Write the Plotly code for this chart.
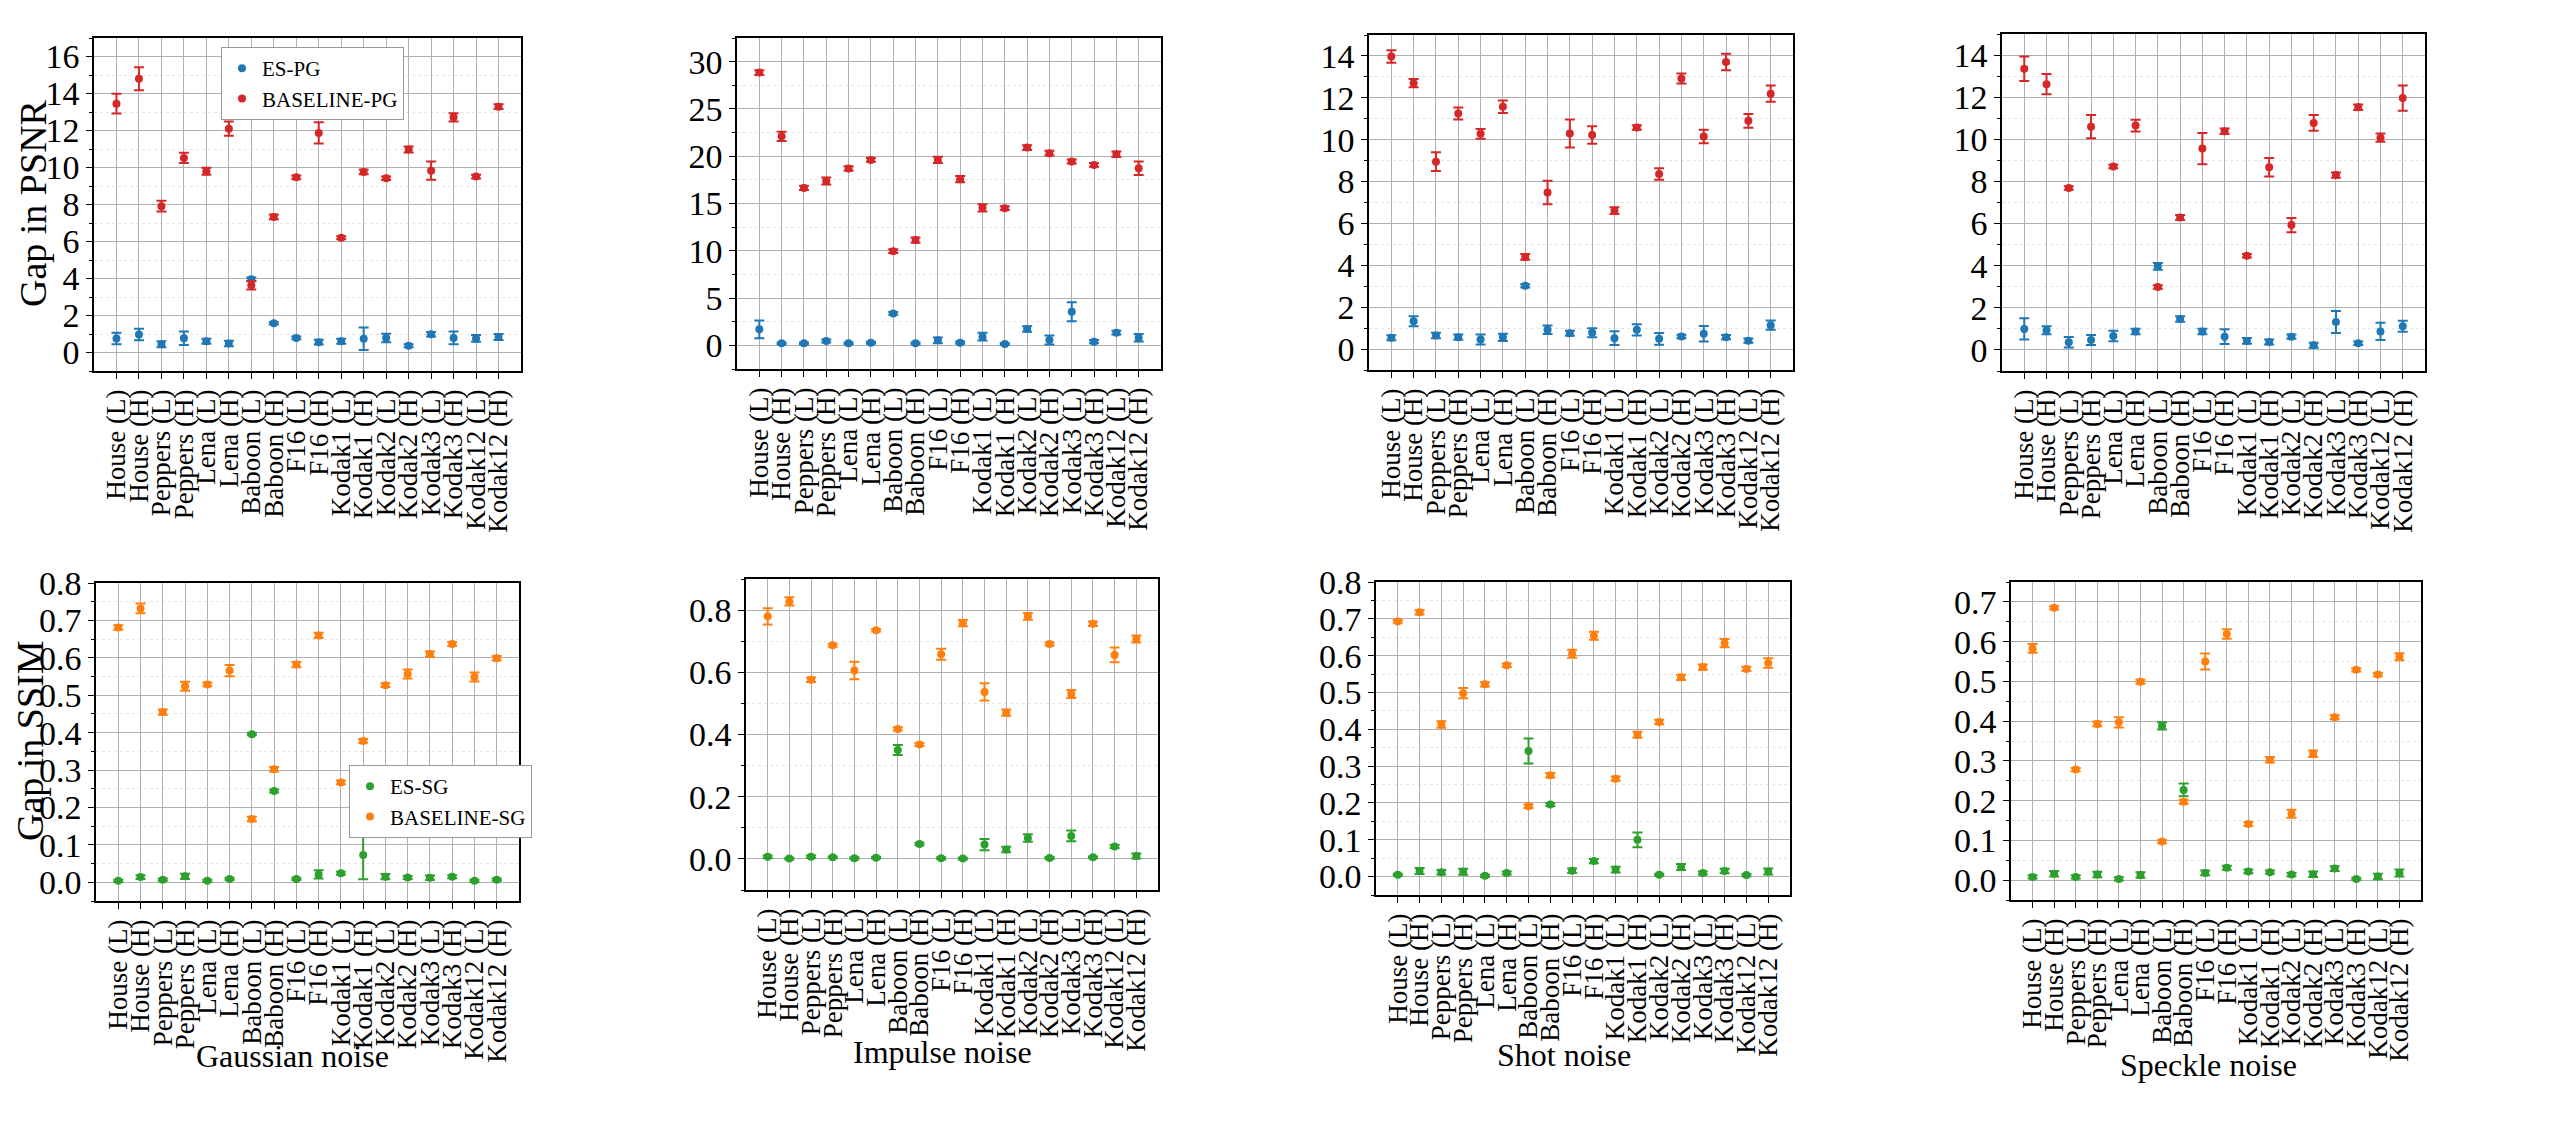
import plotly.graph_objects as go

categories = ["House (L)", "House (H)", "Peppers (L)", "Peppers (H)", "Lena (L)", "Lena (H)",
              "Baboon (L)", "Baboon (H)", "F16 (L)", "F16 (H)", "Kodak1 (L)", "Kodak1 (H)",
              "Kodak2 (L)", "Kodak2 (H)", "Kodak3 (L)", "Kodak3 (H)", "Kodak12 (L)", "Kodak12 (H)"]

# Gap in PSNR
gauss_psnr_es = [0.76, 0.97, 0.45, 0.77, 0.61, 0.49, 3.96, 1.58, 0.79, 0.56, 0.61, 0.74, 0.79, 0.36, 0.99, 0.79, 0.76, 0.84]
gauss_psnr_es_err = [0.31, 0.31, 0.16, 0.36, 0.14, 0.15, 0.1, 0.06, 0.08, 0.13, 0.14, 0.61, 0.23, 0.08, 0.12, 0.35, 0.18, 0.16]
gauss_psnr_base = [13.45, 14.8, 7.91, 10.52, 9.8, 12.1, 3.63, 7.33, 9.47, 11.87, 6.2, 9.76, 9.42, 10.97, 9.83, 12.71, 9.51, 13.29]
gauss_psnr_base_err = [0.53, 0.62, 0.29, 0.28, 0.19, 0.38, 0.22, 0.13, 0.1, 0.57, 0.08, 0.13, 0.1, 0.16, 0.49, 0.22, 0.1, 0.13]

impulse_psnr_es = [1.69, 0.21, 0.21, 0.46, 0.21, 0.28, 3.38, 0.21, 0.53, 0.28, 0.92, 0.14, 1.73, 0.56, 3.56, 0.39, 1.34, 0.81]
impulse_psnr_es_err = [0.95, 0.1, 0.1, 0.15, 0.1, 0.1, 0.15, 0.1, 0.3, 0.12, 0.4, 0.1, 0.28, 0.48, 1.0, 0.18, 0.2, 0.4]
impulse_psnr_base = [28.84, 22.11, 16.65, 17.39, 18.7, 19.61, 9.96, 11.13, 19.61, 17.57, 14.54, 14.5, 20.92, 20.32, 19.44, 19.08, 20.21, 18.73]
impulse_psnr_base_err = [0.25, 0.49, 0.23, 0.37, 0.25, 0.2, 0.2, 0.28, 0.33, 0.33, 0.39, 0.2, 0.25, 0.25, 0.2, 0.2, 0.3, 0.72]

shot_psnr_es = [0.54, 1.33, 0.65, 0.57, 0.46, 0.56, 3.02, 0.92, 0.76, 0.78, 0.52, 0.92, 0.49, 0.6, 0.73, 0.57, 0.4, 1.14]
shot_psnr_es_err = [0.12, 0.24, 0.13, 0.12, 0.24, 0.17, 0.08, 0.2, 0.12, 0.21, 0.33, 0.27, 0.28, 0.08, 0.37, 0.1, 0.1, 0.22]
shot_psnr_base = [13.97, 12.7, 8.95, 11.25, 10.28, 11.57, 4.4, 7.48, 10.3, 10.22, 6.61, 10.58, 8.36, 12.92, 10.15, 13.71, 10.9, 12.2]
shot_psnr_base_err = [0.3, 0.2, 0.45, 0.29, 0.23, 0.3, 0.14, 0.56, 0.67, 0.42, 0.16, 0.11, 0.27, 0.24, 0.32, 0.39, 0.33, 0.39]

speckle_psnr_es = [1.0, 0.93, 0.36, 0.47, 0.66, 0.88, 3.97, 1.47, 0.88, 0.63, 0.43, 0.38, 0.63, 0.22, 1.33, 0.32, 0.88, 1.12]
speckle_psnr_es_err = [0.5, 0.19, 0.25, 0.24, 0.25, 0.13, 0.16, 0.13, 0.13, 0.35, 0.14, 0.12, 0.1, 0.12, 0.52, 0.08, 0.41, 0.26]
speckle_psnr_base = [13.35, 12.62, 7.69, 10.6, 8.71, 10.65, 2.99, 6.29, 9.56, 10.38, 4.47, 8.67, 5.93, 10.78, 8.3, 11.52, 10.08, 11.96]
speckle_psnr_base_err = [0.58, 0.48, 0.08, 0.55, 0.08, 0.28, 0.08, 0.12, 0.74, 0.13, 0.08, 0.44, 0.34, 0.37, 0.12, 0.13, 0.2, 0.6]

# Gap in SSIM
gauss_ssim_es = [0.004, 0.014, 0.007, 0.016, 0.004, 0.009, 0.396, 0.244, 0.009, 0.021, 0.024, 0.073, 0.015, 0.013, 0.012, 0.015, 0.004, 0.007]
gauss_ssim_es_err = [0.003, 0.005, 0.003, 0.007, 0.003, 0.003, 0.003, 0.004, 0.003, 0.011, 0.004, 0.065, 0.007, 0.004, 0.006, 0.004, 0.003, 0.003]
gauss_ssim_base = [0.681, 0.732, 0.455, 0.524, 0.529, 0.566, 0.169, 0.302, 0.582, 0.66, 0.267, 0.378, 0.527, 0.557, 0.61, 0.637, 0.549, 0.599]
gauss_ssim_base_err = [0.006, 0.013, 0.007, 0.012, 0.005, 0.015, 0.006, 0.006, 0.007, 0.007, 0.005, 0.005, 0.005, 0.012, 0.007, 0.005, 0.012, 0.006]

impulse_ssim_es = [0.007, 0.001, 0.007, 0.005, 0.002, 0.004, 0.35, 0.048, 0.002, 0.001, 0.046, 0.03, 0.067, 0.003, 0.074, 0.005, 0.04, 0.009]
impulse_ssim_es_err = [0.004, 0.003, 0.004, 0.003, 0.003, 0.003, 0.016, 0.004, 0.003, 0.003, 0.018, 0.009, 0.012, 0.003, 0.017, 0.003, 0.005, 0.008]
impulse_ssim_base = [0.78, 0.828, 0.576, 0.687, 0.606, 0.735, 0.418, 0.368, 0.658, 0.758, 0.537, 0.47, 0.78, 0.691, 0.53, 0.756, 0.656, 0.707]
impulse_ssim_base_err = [0.026, 0.013, 0.007, 0.005, 0.028, 0.004, 0.005, 0.005, 0.018, 0.01, 0.028, 0.01, 0.011, 0.005, 0.013, 0.007, 0.024, 0.011]

shot_ssim_es = [0.005, 0.015, 0.012, 0.013, 0.002, 0.01, 0.341, 0.196, 0.016, 0.042, 0.019, 0.1, 0.005, 0.026, 0.01, 0.015, 0.004, 0.014]
shot_ssim_es_err = [0.003, 0.008, 0.006, 0.008, 0.003, 0.004, 0.034, 0.004, 0.006, 0.006, 0.008, 0.02, 0.003, 0.008, 0.004, 0.006, 0.003, 0.008]
shot_ssim_base = [0.693, 0.718, 0.413, 0.498, 0.522, 0.574, 0.191, 0.275, 0.605, 0.654, 0.266, 0.385, 0.42, 0.541, 0.569, 0.634, 0.564, 0.58]
shot_ssim_base_err = [0.004, 0.006, 0.009, 0.014, 0.006, 0.005, 0.005, 0.006, 0.011, 0.011, 0.006, 0.008, 0.006, 0.007, 0.007, 0.011, 0.006, 0.013]

speckle_ssim_es = [0.008, 0.016, 0.008, 0.014, 0.003, 0.013, 0.388, 0.227, 0.018, 0.031, 0.022, 0.02, 0.014, 0.015, 0.029, 0.003, 0.009, 0.018]
speckle_ssim_es_err = [0.004, 0.007, 0.004, 0.007, 0.004, 0.007, 0.009, 0.016, 0.006, 0.005, 0.005, 0.004, 0.004, 0.007, 0.006, 0.003, 0.007, 0.009]
speckle_ssim_base = [0.583, 0.685, 0.278, 0.393, 0.397, 0.499, 0.097, 0.197, 0.55, 0.619, 0.141, 0.303, 0.167, 0.318, 0.41, 0.529, 0.517, 0.562]
speckle_ssim_base_err = [0.011, 0.004, 0.004, 0.006, 0.013, 0.005, 0.004, 0.005, 0.02, 0.012, 0.005, 0.007, 0.01, 0.008, 0.005, 0.004, 0.004, 0.009]

noise_titles = ["Gaussian noise", "Impulse noise", "Shot noise", "Speckle noise"]

W, H = 2550, 1125
FONT = "Liberation Serif, Times New Roman, serif"
BLUE, RED, GREEN, ORANGE = "#1f77b4", "#d62728", "#2ca02c", "#ff7f0e"

panels = [
    (gauss_psnr_es, gauss_psnr_es_err, gauss_psnr_base, gauss_psnr_base_err),
    (impulse_psnr_es, impulse_psnr_es_err, impulse_psnr_base, impulse_psnr_base_err),
    (shot_psnr_es, shot_psnr_es_err, shot_psnr_base, shot_psnr_base_err),
    (speckle_psnr_es, speckle_psnr_es_err, speckle_psnr_base, speckle_psnr_base_err),
    (gauss_ssim_es, gauss_ssim_es_err, gauss_ssim_base, gauss_ssim_base_err),
    (impulse_ssim_es, impulse_ssim_es_err, impulse_ssim_base, impulse_ssim_base_err),
    (shot_ssim_es, shot_ssim_es_err, shot_ssim_base, shot_ssim_base_err),
    (speckle_ssim_es, speckle_ssim_es_err, speckle_ssim_base, speckle_ssim_base_err),
]

# plot frames in pixels: left, right, top, bottom
frames = [
    (86, 513, 30, 363), (729, 1153, 30, 361), (1361, 1785, 27, 362), (1994, 2417, 26, 363),
    (88, 511, 575, 893), (738, 1150, 571, 882), (1368, 1782, 574, 887), (2003, 2413, 574, 892),
]
yranges = [(-1, 17), (-2.5, 32.5), (-1, 15), (-1, 15),
           (-0.05, 0.8), (-0.1, 0.9), (-0.05, 0.8), (-0.05, 0.75)]
ydticks = [2, 5, 2, 2, 0.1, 0.2, 0.1, 0.1]

fig = go.Figure()

for i, (es, es_err, base, base_err) in enumerate(panels):
    n = i + 1
    top_row = i < 4
    series = [
        (es, es_err, "ES-PG" if top_row else "ES-SG", BLUE if top_row else GREEN),
        (base, base_err, "BASELINE-PG" if top_row else "BASELINE-SG", RED if top_row else ORANGE),
    ]
    for vals, err, name, color in series:
        fig.add_trace(go.Scatter(
            x=categories, y=vals, mode="markers", name=name,
            marker=dict(color=color, size=8),
            error_y=dict(type="data", array=err, visible=True, color=color, thickness=2, width=5),
            xaxis=f"x{n}", yaxis=f"y{n}",
            showlegend=(i in (0, 4)),
            legend="legend" if top_row else "legend2",
        ))

    l, r, t, b = frames[i]
    fig.layout[f"xaxis{n}"] = dict(
        domain=[l / W, r / W], anchor=f"y{n}", type="category", range=[-1, 18],
        tickmode="array", tickvals=categories, ticktext=categories,
        tickangle=-90, ticks="outside", ticklen=6, tickcolor="black",
        showline=True, linecolor="black", linewidth=1.5, mirror=True,
        showgrid=True, gridcolor="#b0b0b0", gridwidth=1,
        tickfont=dict(size=27, color="black", family=FONT), automargin=False,
    )
    d = ydticks[i]
    fig.layout[f"yaxis{n}"] = dict(
        domain=[1 - b / H, 1 - t / H], anchor=f"x{n}", range=list(yranges[i]),
        tick0=0, dtick=d, tickformat=".1f" if not top_row else "d",
        ticks="outside", ticklen=6, tickcolor="black",
        minor=dict(dtick=d / 2, tick0=0, ticks="outside", ticklen=3, tickcolor="black",
                   showgrid=True, gridcolor="#e4e4e4", griddash="dot"),
        showline=True, linecolor="black", linewidth=1.5, mirror=True,
        showgrid=True, gridcolor="#b0b0b0", gridwidth=1, zeroline=False,
        tickfont=dict(size=34, color="black", family=FONT), automargin=False,
    )

annotations = [
    dict(text="Gap in PSNR", x=25 / W, y=1 - 195 / H, textangle=-90, font=dict(size=38)),
    dict(text="Gap in SSIM", x=22 / W, y=1 - 733 / H, textangle=-90, font=dict(size=38)),
]
for title, (cx, cy) in zip(noise_titles, [(284, 1048), (935, 1044), (1556, 1047), (2200, 1057)]):
    annotations.append(dict(text=title, x=cx / W, y=1 - cy / H, font=dict(size=32)))
for a in annotations:
    a.update(xref="paper", yref="paper", showarrow=False, xanchor="center", yanchor="middle")
    a["font"].update(family=FONT, color="black")

legend_style = dict(xanchor="left", yanchor="top", bgcolor="white", bordercolor="#999999",
                    borderwidth=1, font=dict(size=21, family=FONT, color="black"))

fig.update_layout(
    width=W, height=H,
    margin=dict(l=0, r=0, t=0, b=0),
    paper_bgcolor="white", plot_bgcolor="white",
    font=dict(family=FONT, color="black"),
    annotations=annotations,
    legend=dict(x=213 / W, y=1 - 39 / H, **legend_style),
    legend2=dict(x=341 / W, y=1 - 757 / H, **legend_style),
)

fig.write_html("out.html")
